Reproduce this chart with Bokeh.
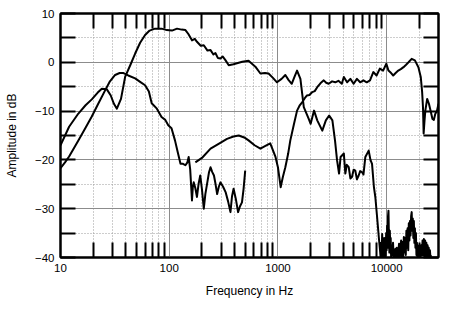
from bokeh.plotting import figure
from bokeh.models import Range1d, FixedTicker, LogAxis, LinearAxis
from bokeh.embed import file_html
from bokeh.resources import INLINE

# ---------------- data ----------------
woofer_f = [10, 12, 14.6, 17, 19.4, 22, 24, 26.6, 29, 31, 33, 36, 39.3, 44, 48.6, 54, 60, 66, 74, 85,
            95, 106, 118, 130, 141, 150, 162, 172, 180, 195, 208, 225, 240, 255, 266, 280, 296, 310,
            330, 353, 390, 420, 470, 537,
            620, 690, 760, 820, 900, 980, 1080, 1170, 1250, 1340, 1420, 1500, 1610, 1730, 1920, 2000,
            2150, 2300, 2560, 2760, 2960, 3170, 3350, 3500, 3650, 3770, 4040, 4170, 4300, 4480, 4640,
            4800, 4970, 5150, 5330, 5530, 5710, 5930, 6120, 6370, 6840, 7100, 7340, 7640, 7870, 8170,
            8470, 8700,
            8800, 8900, 9000, 9100, 9200, 9300, 9400, 9500, 9600, 9700, 9800, 9900, 10000, 10100,
            10200, 10300, 10400, 10500, 10600, 10700, 10800, 10900, 11000, 11150, 11300, 11450, 11600,
            11750, 11900, 12050, 12200, 12400, 12600, 12800, 13000, 13200, 13400, 13600, 13800, 14000,
            14200, 14400, 14600, 14800, 15000, 15200, 15400, 15600, 15800, 16000, 16200, 16400, 16600,
            16800, 17000, 17200, 17400, 17600, 17800, 18000, 18200, 18400, 18600, 18800, 19000, 19200,
            19400, 19600, 19800, 20000, 20200, 20500, 20800, 21100, 21400, 21700, 22000, 22300, 22600,
            22900, 23200, 23500, 23800, 24100, 24400, 24700, 25000, 25300, 25600]
woofer_db = [-17.0, -13.2, -10.5, -8.8, -7.6, -6.2, -5.4, -5.5, -6.8, -8.5, -9.5, -7.5, -3.0, -0.5, 1.8,
             4.0, 5.6, 6.5, 6.9, 6.9, 6.6, 6.5, 6.9, 6.7, 6.6, 5.8, 4.5, 4.8, 4.2, 3.4, 3.5, 2.4, 2.5,
             1.6, 1.9, 0.9, 0.8, 1.2,
             0.4, -0.6, -0.4, -0.2, 0.1, 0.3, -0.9, -2.3, -2.2, -2.3, -3.2, -4.1, -3.4, -2.6, -3.6, -4.4,
             -3.0, -1.7, -3.4, -9.2, -11.6, -12.6, -9.9, -11.9, -14.0, -11.9, -10.9, -11.9, -16.0,
             -20.1, -22.8, -19.4, -18.7, -22.8, -21.0, -21.5, -23.8, -23.5, -22.0, -22.2, -24.0, -23.2,
             -22.3, -22.5, -23.0, -19.4, -18.1, -20.0, -20.8, -25.6, -27.6, -31.7, -35.8, -38.6,
             -40.0, -37.0, -39.5, -35.2, -39.8, -36.5, -40.0, -36.0, -39.5, -37.0, -40.0, -35.0, -38.5,
             -33.5, -38.0, -31.5, -30.4, -36.0, -39.0, -34.5, -38.0, -36.0, -40.0, -37.5, -39.5, -37.0,
             -40.0, -38.6, -40.0, -38.2, -40.0, -38.0, -40.0, -39.0, -37.2, -40.0, -38.0, -36.5, -39.8,
             -36.8, -40.0, -35.8, -39.0, -36.0, -39.5, -34.5, -38.0, -34.0, -38.5, -33.0, -36.5, -32.5,
             -35.5, -31.5, -30.7, -34.5, -32.0, -36.0, -32.5, -37.0, -34.0, -38.0, -35.0, -39.5, -37.0,
             -40.0, -37.5, -40.0, -37.8, -39.8, -37.5, -40.0, -37.5, -39.5, -36.5, -39.5, -36.2, -39.8,
             -36.5, -40.0, -37.0, -40.0, -37.5, -39.8, -38.0, -40.0, -38.5, -40.0, -39.5]

port_f = [10, 11, 12, 14.6, 17, 19.4, 22, 25.8, 28.5, 31.8, 35, 38, 42, 48.6, 54, 60, 65, 69, 77, 85,
          92, 98, 105, 113, 120, 127, 134, 141, 147, 151, 156, 162, 165, 168, 174, 180, 186, 193, 200,
          208, 215, 223, 232, 240, 249, 258, 267, 276, 286, 296, 313, 330, 348, 366, 378, 391, 410,
          430, 448, 467, 483, 500]
port_db = [-21.7, -20.5, -19.3, -16.0, -13.4, -11.1, -8.7, -5.7, -3.9, -2.6, -2.2, -2.2, -2.7, -3.3,
           -4.0, -4.7, -6.0, -8.4, -9.5, -11.2, -11.8, -12.9, -13.5, -16.0, -18.5, -20.8, -20.8, -21.1,
           -20.5, -19.4, -22.0, -28.3, -25.5, -24.6, -25.8, -27.6, -25.0, -23.2, -26.0, -30.0, -27.0,
           -24.9, -22.6, -21.5, -22.5, -23.2, -25.0, -27.0, -25.5, -24.6, -25.5, -26.6, -28.5, -30.7,
           -27.5, -25.9, -28.0, -30.7, -29.5, -28.7, -26.0, -22.2]

mid_f = [174, 200, 240, 290, 340, 390, 436, 490, 537, 610, 690, 760, 850, 950, 1000, 1060, 1110, 1170,
         1240, 1300, 1400, 1500, 1580, 1670, 1760, 1850, 1950, 2070, 2180, 2300, 2460, 2640, 2780,
         2930, 3150, 3370, 3600, 3870, 4040, 4330, 4640, 4970, 5330, 5710, 6120, 6560, 7030, 7540,
         8080, 8660, 9280, 9940, 10400, 11000, 11500, 12100, 12800, 13500, 14300, 15100, 15900,
         17000, 18200, 19600, 20600, 21200, 21600, 21900, 22300, 22700, 23600, 24500, 25400, 26400,
         27200, 28000, 29000, 30000]
mid_db = [-20.5, -19.6, -17.7, -16.6, -15.7, -15.2, -15.0, -15.4, -16.0, -17.0, -17.7, -17.2, -16.6,
          -19.4, -21.5, -25.6, -23.5, -21.5, -18.8, -16.0, -12.8, -9.9, -8.9, -8.2, -7.4, -6.8, -6.7,
          -6.1, -5.9, -5.1, -4.3, -3.7, -4.2, -4.4, -3.9, -4.1, -3.8, -4.4, -3.0, -4.1, -3.4, -4.4,
          -3.4, -4.1, -3.7, -4.1, -3.7, -2.0, -2.7, -1.3, -1.7, -0.3, -1.7, -2.2, -2.7, -2.2, -1.7,
          -1.4, -1.0, -0.5, 0.0, 0.7, 0.4, -1.0, -3.0, -6.0, -9.2, -14.6, -12.0, -9.9, -7.5, -8.5,
          -10.0, -11.6, -11.8, -10.6, -10.0, -8.5]

x_major = [10, 100, 1000, 10000]
x_labels = ["10", "100", "1000", "10000"]
y_major = [-40, -30, -20, -10, 0, 10]
y_minor = [-35, -25, -15, -5, 5]
x_minor = [m * 10 ** k for k in range(1, 5) for m in range(2, 10) if m * 10 ** k < 30000]

FONT = "Liberation Sans"

p = figure(width=450, height=311, x_axis_type="log",
           x_range=Range1d(10, 30000), y_range=Range1d(-40, 10),
           output_backend="svg", toolbar_location=None,
           min_border_left=60, min_border_right=12, min_border_top=13, min_border_bottom=54,
           background_fill_color="white", border_fill_color="white")

xticker = FixedTicker(ticks=x_major, minor_ticks=x_minor)
yticker = FixedTicker(ticks=y_major, minor_ticks=y_minor)

p.outline_line_color = "black"
p.outline_line_width = 2

# grids
p.xgrid.ticker = xticker
p.ygrid.ticker = yticker
for g in (p.xgrid, p.ygrid):
    g.grid_line_color = "#8c8c8c"
    g.grid_line_width = 1
    g.minor_grid_line_color = "#9a9a9a"
    g.minor_grid_line_dash = "1 2"
    g.minor_grid_line_width = 1


def style_axis(ax, labels=True):
    ax.axis_line_color = "black"
    ax.axis_line_width = 2
    ax.major_tick_out = 0
    ax.minor_tick_out = 0
    ax.minor_tick_in = 15
    ax.minor_tick_line_color = "black"
    ax.minor_tick_line_width = 2
    ax.major_tick_line_color = "black"
    ax.major_tick_line_width = 2
    ax.major_label_text_font = FONT
    ax.major_label_text_color = "black"
    ax.axis_label_text_font = FONT
    ax.axis_label_text_font_style = "normal"
    ax.axis_label_text_color = "black"
    ax.axis_label_text_font_size = "12px"
    if labels:
        ax.major_label_text_font_size = "11.5px"
        ax.major_label_standoff = 6
    else:
        ax.major_label_text_font_size = "0px"
        ax.major_label_standoff = 0


xa = p.xaxis[0]
xa.ticker = xticker
xa.major_label_overrides = dict(zip(x_major, x_labels))
style_axis(xa)
xa.major_tick_in = 0
xa.axis_label = "Frequency in Hz"
xa.axis_label_standoff = 9

ya = p.yaxis[0]
ya.ticker = yticker
style_axis(ya)
ya.major_tick_in = 15
ya.axis_label = "Amplitude in dB"
ya.axis_label_standoff = 13

top = LogAxis(ticker=xticker)
style_axis(top, labels=False)
top.major_tick_in = 0
top.major_label_overrides = {t: "" for t in x_major}
p.add_layout(top, "above")

right = LinearAxis(ticker=yticker)
style_axis(right, labels=False)
right.major_tick_in = 15
right.major_label_overrides = {t: "" for t in y_major}
p.add_layout(right, "right")

# curves
for fx, dy in ((port_f, port_db), (woofer_f, woofer_db), (mid_f, mid_db)):
    p.line(fx, dy, line_color="black", line_width=2, line_join="round")

open("out.html", "w").write(file_html(p, INLINE))
